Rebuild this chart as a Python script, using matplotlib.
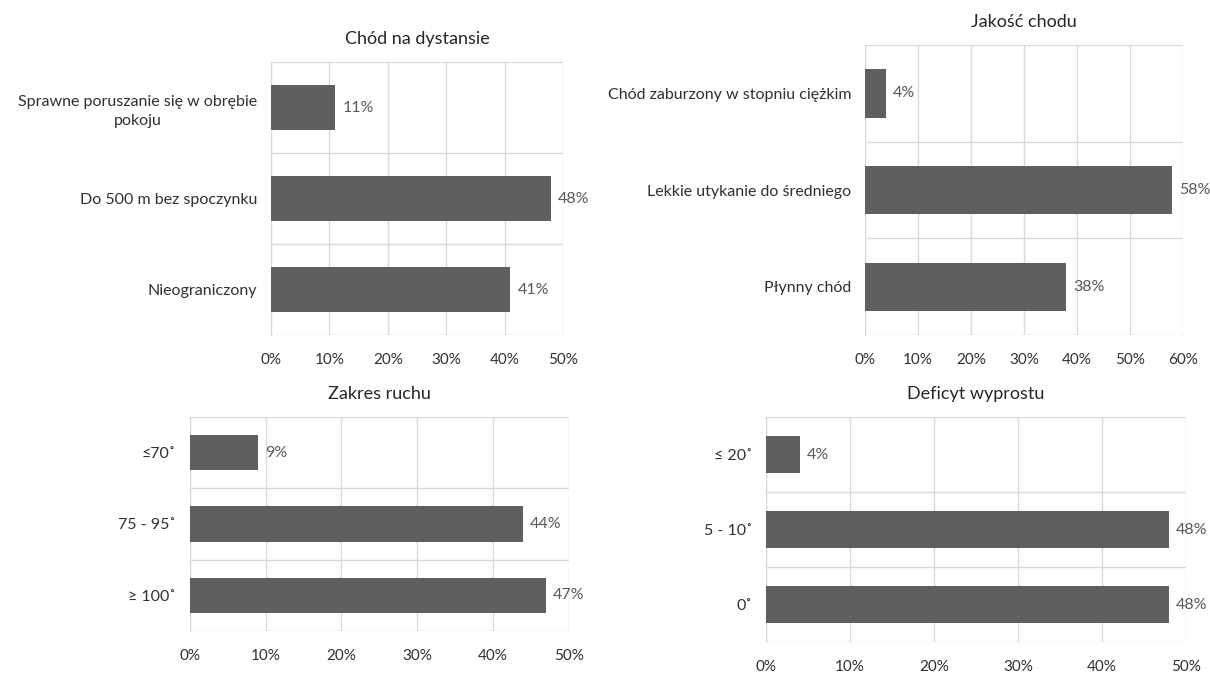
import matplotlib.pyplot as plt
from matplotlib.ticker import PercentFormatter, FixedLocator

plt.rcParams['font.family'] = ['Lato', 'DejaVu Sans']

# data
dist_labels = ["Sprawne poruszanie się w obrębie\npokoju", "Do 500 m bez spoczynku", "Nieograniczony"]
dist_values = [11, 48, 41]

gait_labels = ["Chód zaburzony w stopniu ciężkim", "Lekkie utykanie do średniego", "Płynny chód"]
gait_values = [4, 58, 38]

rom_labels = ["≤70˚", "75 - 95˚", "≥ 100˚"]
rom_values = [9, 44, 47]

ext_labels = ["≤ 20˚", "5 - 10˚", "0˚"]
ext_values = [4, 48, 48]

bar_color = "#5f5f5f"
grid_color = "#d9d9d9"

fig = plt.figure(figsize=(12.1, 6.73), dpi=100)


def panel(rect, title, labels, values, xmax):
    ax = fig.add_axes(rect)
    y = list(range(len(labels)))
    ax.barh(y, values, height=0.5, color=bar_color, zorder=3)
    ax.set_ylim(len(labels) - 0.5, -0.5)
    ax.set_xlim(0, xmax)
    ax.set_xticks(range(0, xmax + 1, 10))
    ax.xaxis.set_major_formatter(PercentFormatter(decimals=0))
    ax.set_yticks(y)
    ax.set_yticklabels(labels, multialignment='center', linespacing=1.45)
    # lines between categories
    ax.yaxis.set_minor_locator(FixedLocator([i - 0.5 for i in range(len(labels) + 1)]))
    ax.grid(axis='x', which='major', color=grid_color, lw=1, zorder=0)
    ax.grid(axis='y', which='minor', color=grid_color, lw=1, zorder=0)
    ax.tick_params(which='both', length=0)
    ax.tick_params(axis='y', pad=10, labelsize=11.5, labelcolor="#303030")
    ax.tick_params(axis='x', pad=13, labelsize=11, labelcolor="#303030")
    for s in ['top', 'right', 'bottom']:
        ax.spines[s].set_visible(False)
    ax.spines['left'].set_color(grid_color)
    for yi, v in zip(y, values):
        ax.annotate(f"{v}%", (v, yi), xytext=(5, 0), textcoords='offset points',
                    va='center', ha='left', fontsize=11.5, color="#595959")
    ax.set_title(title, fontsize=13, color="#262626", pad=13)
    return ax


panel([0.224, 0.5022, 0.2413, 0.4056], "Chód na dystansie", dist_labels, dist_values, 50)
panel([0.7149, 0.502, 0.2628, 0.431], "Jakość chodu", gait_labels, gait_values, 60)
panel([0.157, 0.0624, 0.313, 0.318], "Zakres ruchu", rom_labels, rom_values, 50)
panel([0.633, 0.0461, 0.347, 0.334], "Deficyt wyprostu", ext_labels, ext_values, 50)

fig.savefig("out.png", dpi=100)
